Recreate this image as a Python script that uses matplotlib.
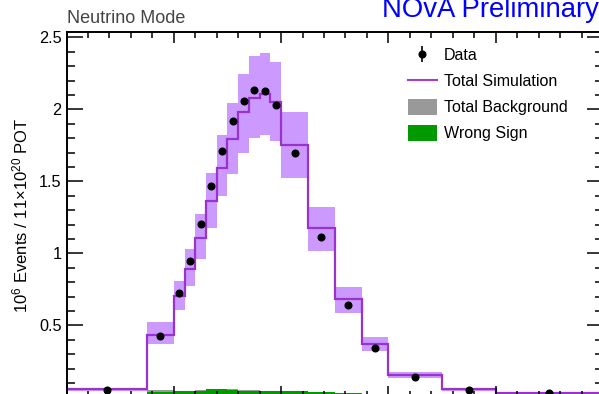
import numpy as np
import matplotlib
matplotlib.use("Agg")
import matplotlib.pyplot as plt
from matplotlib.ticker import MultipleLocator, FixedLocator, FormatStrFormatter
from matplotlib.patches import Patch
from matplotlib.lines import Line2D

plt.rcParams.update({
    "font.family": "Liberation Sans",
    "mathtext.fontset": "custom",
    "mathtext.rm": "Liberation Sans",
    "mathtext.it": "Liberation Sans:italic",
})

# reconstructed neutrino energy binning (GeV)
EDGES = [0, 0.75, 1.0, 1.1, 1.2, 1.3, 1.4, 1.5, 1.6, 1.7, 1.8, 1.9, 2.0,
         2.25, 2.5, 2.75, 3.0, 3.5, 4.0, 5.0]

# events per bin, 10^6 / 11e20 POT
SIM = [0.057, 0.436, 0.703, 0.894, 1.107, 1.364, 1.590, 1.791, 1.980,
       2.079, 2.107, 2.051, 1.752, 1.173, 0.680, 0.367, 0.154, 0.055, 0.032]
SYST_LO = [0.046, 0.367, 0.606, 0.775, 0.961, 1.173, 1.399, 1.549, 1.699,
           1.802, 1.821, 1.779, 1.521, 1.019, 0.588, 0.320, 0.131, 0.046, 0.026]
SYST_HI = [0.066, 0.523, 0.811, 1.030, 1.272, 1.556, 1.819, 2.044, 2.248,
           2.367, 2.390, 2.326, 1.980, 1.325, 0.765, 0.419, 0.173, 0.063, 0.037]
DATA = [0.050, 0.429, 0.721, 0.950, 1.203, 1.468, 1.710, 1.918, 2.056,
        2.134, 2.127, 2.028, 1.696, 1.115, 0.643, 0.343, 0.142, 0.050, 0.030]
BKG = [0.012, 0.050, 0.046, 0.046, 0.050, 0.055, 0.057, 0.057, 0.050,
       0.048, 0.047, 0.047, 0.045, 0.038, 0.030, 0.025, 0.020, 0.015, 0.010]
WRONG_SIGN = [0.005, 0.039, 0.044, 0.044, 0.044, 0.055, 0.055, 0.048, 0.046,
              0.046, 0.046, 0.046, 0.044, 0.037, 0.028, 0.022, 0.016, 0.012, 0.008]

BAND_COL = "#cc99ff"
LINE_COL = "#9933cc"
GRAY = "#999999"
GREEN = "#009900"

W, H = 599, 394
fig = plt.figure(figsize=(W / 100, H / 100), dpi=100)
# frame runs slightly past the right and bottom edges of the canvas
ax = fig.add_axes([66.5 / W, 1 - 397.3 / H, (603 - 66.5) / W, (397.3 - 32.3) / H])

edges = np.array(EDGES)
centers = 0.5 * (edges[1:] + edges[:-1])

ax.stairs(SYST_HI, edges, baseline=SYST_LO, fill=True, color=BAND_COL, lw=0)
ax.stairs(BKG, edges, baseline=0, fill=True, color=GRAY, lw=0)
ax.stairs(WRONG_SIGN, edges, baseline=0, fill=True, color=GREEN, lw=0)
ax.stairs(SIM, edges, baseline=None, color=LINE_COL, lw=1.6)
data_h = ax.errorbar(centers, DATA, yerr=np.zeros(len(DATA)), fmt="o",
                     color="black", ms=4.8, elinewidth=1.2, capsize=0, zorder=5)

ax.set_xlim(0, 5)
ax.set_ylim(0, 2.535)
ax.xaxis.set_major_locator(MultipleLocator(1))
ax.xaxis.set_minor_locator(MultipleLocator(0.2))
ax.yaxis.set_major_locator(FixedLocator([0.5, 1, 1.5, 2, 2.5]))
ax.yaxis.set_minor_locator(MultipleLocator(0.1))
ax.yaxis.set_major_formatter(FormatStrFormatter("%g"))

ax.tick_params(which="both", direction="in", top=True, right=True,
               width=1.1, labelbottom=False, labelsize=11.7, pad=3.5)
ax.tick_params(axis="y", which="major", length=11.5)
ax.tick_params(axis="y", which="minor", length=5.8)
ax.tick_params(axis="x", which="major", length=8)
ax.tick_params(axis="x", which="minor", length=4.3)
for sp in ax.spines.values():
    sp.set_linewidth(1.4)

ax.set_ylabel("$10^{6}$ Events / 11×$10^{20}$ POT", fontsize=12, labelpad=6)

fig.text(67 / W, 1 - 23.3 / H, "Neutrino Mode", fontsize=13, color="#444444",
         ha="left", va="baseline")
fig.text(382 / W, 1 - 16.7 / H, "NOvA Preliminary", fontsize=19.8, color="#0000ff",
         ha="left", va="baseline")

handles = [data_h,
           Line2D([], [], color="#a040d0", lw=1.5),
           Patch(facecolor=GRAY, edgecolor="none"),
           Patch(facecolor=GREEN, edgecolor="none")]
labels = ["Data", "Total Simulation", "Total Background", "Wrong Sign"]
ax.legend(handles, labels, loc="upper left", bbox_to_anchor=(408 / W, 1 - 47 / H),
          bbox_transform=fig.transFigure, frameon=False, fontsize=11.5,
          handlelength=1.8, handleheight=1.12, handletextpad=0.45,
          labelspacing=0.62, borderpad=0, borderaxespad=0)

fig.savefig("out.png", dpi=100)
